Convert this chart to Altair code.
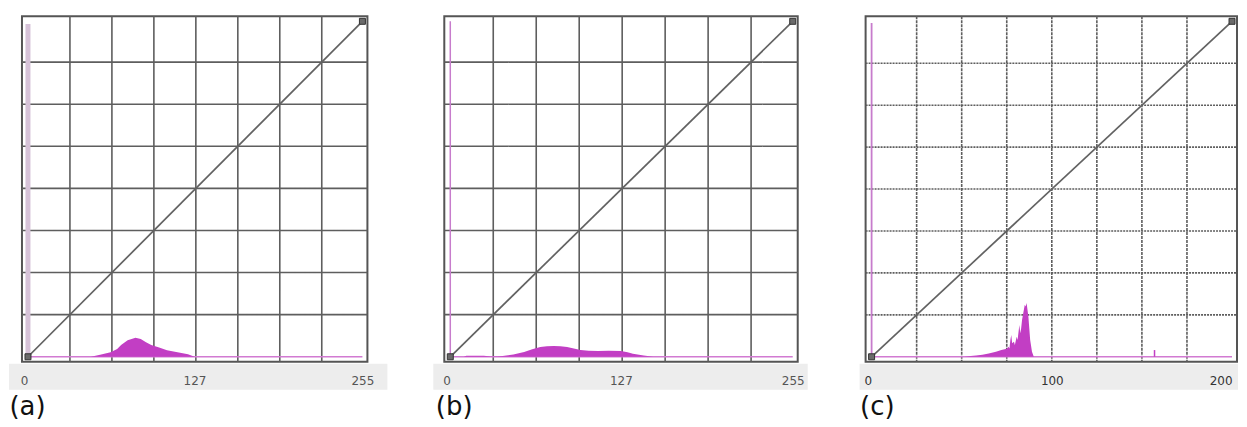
import altair as alt
import pandas as pd

# ---------------- data ----------------
# (a)
a_hist_x = [48, 55, 63, 68, 71, 76, 82, 86, 90, 94, 100, 106, 114, 122, 127]
a_hist_y = [0, 1.5, 3.5, 6, 9, 12.5, 14.5, 13.5, 11, 9, 7, 5, 3.5, 2, 0]
a_spike_y = [253]
a_ticks = [0, 127, 255]
# (b)
b_hist_x = [10, 12, 25, 30, 35, 39, 47, 55, 61, 67, 72, 77, 82, 87, 92, 97, 103, 110, 118, 127, 132, 136, 144, 151]
b_hist_y = [0, 0.7, 0.7, 0.2, 0.2, 0.6, 1.8, 3.7, 5.8, 7.4, 8, 8.2, 8, 7.4, 6.3, 5.2, 4.6, 4.4, 4.6, 4.4, 3.4, 2.2, 1, 0]
b_spike_y = [255]
b_ticks = [0, 127, 255]
# (c)
c_hist_x = [51.5, 55, 58, 61.5, 65, 69, 72, 75, 76, 76.5, 77, 77.5, 78, 79, 79.5, 80.5, 81, 82, 82.5, 83,
            83.5, 84, 84.5, 85, 85.5, 86, 86.5, 87, 87.5, 88, 89, 90]
c_hist_y = [0, 0.5, 0.8, 1.2, 2, 3, 4, 4.8, 6, 5, 10, 13, 8, 9, 7, 12, 10, 19, 14, 17,
            22, 25, 28, 31, 30, 32, 28, 24, 17, 10, 3, 0]
c_spike_y = [199]
c_small_x = [157]
c_small_y = [4]
c_ticks = [0, 100, 200]

a_grid = [32, 64, 96, 128, 160, 192, 224]
b_grid = [32, 64, 96, 128, 160, 192, 224]
c_grid = [25, 50, 75, 100, 125, 150, 175]

H = 346
MAG = "#c23ec4"


def panel(W, vmax, hx, hy, spike_y, spike_color, spike_w, grid, vdash, hdash, ticks,
          caption, band_left, band_right, title_x, last_align="center",
          small_x=None, small_y=None, label_color="#555"):
    inner_w = W - 11
    inner_h = H - 10
    xs = alt.Scale(domain=[-6 * vmax / inner_w, vmax + 5 * vmax / inner_w], nice=False, zero=False)
    ys = alt.Scale(domain=[-5 * vmax / inner_h, vmax + 5 * vmax / inner_h], nice=False, zero=False)
    xaxis = alt.Axis(values=ticks, grid=False, domain=False, ticks=False, zindex=2,
                     labelFont="DejaVu Sans", labelFontSize=12, labelColor=label_color,
                     labelPadding=19, labelBaseline="middle",
                     labelAlign=alt.expr(
                         f"datum.value == 0 ? 'right' : (datum.value == {vmax} ? '{last_align}' : 'center')"),
                     labelFlush=False, labelOverlap=False,
                     title=caption, titleFont="DejaVu Sans", titleFontSize=26,
                     titleFontWeight="normal", titleColor="#111",
                     titleAnchor="start", titleAlign="left", titleBaseline="middle",
                     titleX=title_x, titleY=45)
    one = pd.DataFrame({"d": [0]})

    band = alt.Chart(one).mark_rect(color="#ededed").encode(
        x=alt.value(band_left), x2=alt.value(W + band_right),
        y=alt.value(H + 2), y2=alt.value(H + 28))

    gv = alt.Chart(pd.DataFrame({"g": grid})).mark_rule(
        color="#5e5e5e", strokeWidth=1.6, strokeDash=vdash).encode(
        x=alt.X("g:Q", scale=xs, axis=xaxis), y=alt.value(0), y2=alt.value(H))
    gh = alt.Chart(pd.DataFrame({"g": grid})).mark_rule(
        color="#5e5e5e", strokeWidth=1.6, strokeDash=hdash).encode(
        y=alt.Y("g:Q", scale=ys, axis=None), x=alt.value(0), x2=alt.value(W))

    base = alt.Chart(pd.DataFrame({"x0": [0], "x1": [vmax], "y0": [0]})).mark_rule(
        color="#d27ad2", strokeWidth=1.5).encode(
        x=alt.X("x0:Q", scale=xs, axis=xaxis), x2="x1:Q",
        y=alt.Y("y0:Q", scale=ys, axis=None))

    spike = alt.Chart(pd.DataFrame({"x": [0], "y0": [0], "y1": spike_y})).mark_rule(
        color=spike_color, strokeWidth=spike_w).encode(
        x=alt.X("x:Q", scale=xs, axis=xaxis),
        y=alt.Y("y0:Q", scale=ys, axis=None), y2="y1:Q")

    area = alt.Chart(pd.DataFrame({"x": hx, "y": hy})).mark_area(
        color=MAG, opacity=1, interpolate="linear").encode(
        x=alt.X("x:Q", scale=xs, axis=xaxis),
        y=alt.Y("y:Q", scale=ys, axis=None))

    diag = alt.Chart(pd.DataFrame({"x": [0, vmax], "y": [0, vmax]})).mark_line(
        color="#626262", strokeWidth=1.7).encode(
        x=alt.X("x:Q", scale=xs, axis=xaxis),
        y=alt.Y("y:Q", scale=ys, axis=None))

    pts = alt.Chart(pd.DataFrame({"x": [0, vmax], "y": [0, vmax]})).mark_square(
        size=36, filled=True, color="#6a6a6a", stroke="#333", strokeWidth=1, opacity=1).encode(
        x=alt.X("x:Q", scale=xs, axis=xaxis),
        y=alt.Y("y:Q", scale=ys, axis=None))

    layers = [band, gv, gh, base, spike, area]
    if small_x is not None:
        small = alt.Chart(pd.DataFrame({"x": small_x, "y0": [0], "y1": small_y})).mark_rule(
            color=MAG, strokeWidth=1.5).encode(
            x=alt.X("x:Q", scale=xs, axis=xaxis),
            y=alt.Y("y0:Q", scale=ys, axis=None), y2="y1:Q")
        layers.append(small)
    layers += [diag, pts]
    return alt.layer(*layers).properties(width=W, height=H)


pa = panel(346, 255, a_hist_x, a_hist_y, a_spike_y, "#d6c2d8", 5, a_grid, [1, 0], [1, 0],
           a_ticks, "(a)", -13, 20, -13)
pb = panel(354, 255, b_hist_x, b_hist_y, b_spike_y, "#c77ccc", 1.5, b_grid, [1, 0], [1, 0],
           b_ticks, "(b)", -11, 10, -9)
pc = panel(372, 200, c_hist_x, c_hist_y, c_spike_y, "#c77ccc", 1.8, c_grid, [3, 1], [2, 1],
           c_ticks, "(c)", -6, 1, -6, last_align="right",
           small_x=c_small_x, small_y=c_small_y, label_color="#333")

chart = alt.hconcat(
    pa,
    alt.hconcat(pb, pc, spacing=68, bounds="flush"),
    spacing=77, bounds="flush",
).properties(
    padding={"left": 0, "top": 6, "right": 0, "bottom": 0},
    background="white",
).configure_view(stroke="#555", strokeWidth=2)

chart.save("out.html", embed_options={"renderer": "svg", "actions": False})
